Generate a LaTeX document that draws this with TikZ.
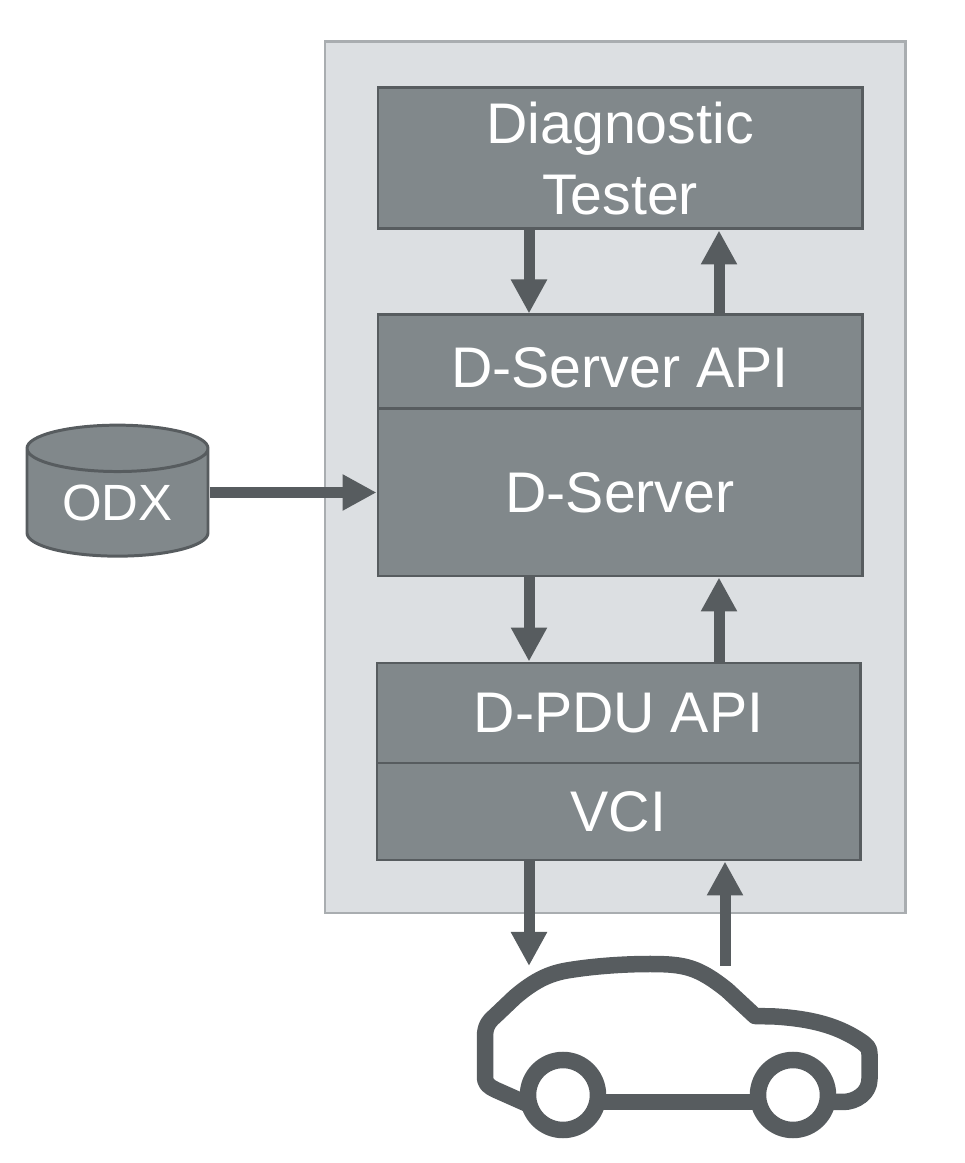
\documentclass[tikz,border=0pt]{standalone}
\usepackage{fontspec}
\setmainfont{Liberation Sans}
\usetikzlibrary{arrows.meta,shapes.geometric}
\definecolor{panelgray}{HTML}{DCDFE2}
\definecolor{panelline}{HTML}{A9ADB0}
\definecolor{boxgray}{HTML}{81888B}
\definecolor{darkgray}{HTML}{575C5F}
\tikzset{
  layerbox/.style={draw=darkgray,fill=boxgray,line width=0.85pt,text=white,align=center,
    inner sep=0pt,font=\fontsize{16.3}{20}\selectfont},
  flow/.style={draw=darkgray,line width=0.11cm,-{Triangle[length=0.34cm,width=0.34cm]}}
}

\begin{document}
\begin{tikzpicture}
  \useasboundingbox (0,0) rectangle (9.65,11.63);
  % panel
  \node[draw=panelline,fill=panelgray,line width=0.85pt,minimum width=5.8cm,minimum height=8.71cm,
    inner sep=0pt] (panel) at (6.15,6.855) {};
  % layers
  \node[layerbox,minimum width=4.84cm,minimum height=1.41cm] (tester) at (6.20,10.045)
    {Diagnostic\\Tester};
  \node[layerbox,minimum width=4.84cm,minimum height=0.94cm,text height=0.51cm] (dapi) at (6.20,8.01)
    {D-Server API};
  \node[layerbox,minimum width=4.84cm,minimum height=1.67cm] (dserver) at (6.20,6.705) {D-Server};
  \node[layerbox,minimum width=4.83cm,minimum height=1.00cm] (pduapi) at (6.185,4.50) {D-PDU API};
  \node[layerbox,minimum width=4.83cm,minimum height=0.97cm] (vci) at (6.185,3.515) {VCI};
  % database
  \node[cylinder,shape border rotate=90,aspect=0.42,draw=darkgray,fill=boxgray,line width=0.85pt,
    cylinder uses custom fill,cylinder body fill=boxgray,cylinder end fill=boxgray,
    text=white,inner sep=0pt,minimum width=1.81cm,minimum height=1.31cm,
    font=\fontsize{14.5}{17}\selectfont] (odx) at (1.175,6.60) {ODX};
  % connectors
  \draw[flow] (odx.east |- dserver.west) -- (dserver.west);
  \draw[flow] ([xshift=-0.91cm]tester.south) -- ([xshift=-0.91cm]dapi.north);
  \draw[flow] ([xshift=0.99cm]dapi.north) -- ([xshift=0.99cm]tester.south);
  \draw[flow] ([xshift=-0.91cm]dserver.south) -- ([xshift=-0.895cm]pduapi.north);
  \draw[flow] ([xshift=1.005cm]pduapi.north) -- ([xshift=0.99cm]dserver.south);
  \coordinate (carin) at (5.29,1.97);
  \coordinate (carout) at (7.25,1.97);
  \draw[flow] (vci.south -| carin) -- (carin);
  \draw[flow] (carout) -- (vci.south -| carout);
  % car
  \draw[darkgray,line width=0.165cm,line join=round]
    (5.32,0.57) -- (4.96,0.73) .. controls (4.88,0.77) and (4.85,0.79) .. (4.85,0.87)
    -- (4.85,1.26) .. controls (4.85,1.36) and (4.88,1.41) .. (4.95,1.47)
    -- (5.15,1.66) .. controls (5.35,1.83) and (5.50,1.90) .. (5.70,1.93)
    .. controls (5.95,1.97) and (6.25,1.99) .. (6.50,1.99)
    .. controls (6.85,1.99) and (6.98,1.96) .. (7.27,1.73)
    -- (7.55,1.47) -- (7.75,1.465) .. controls (8.15,1.44) and (8.40,1.36) .. (8.62,1.21)
    .. controls (8.67,1.17) and (8.695,1.15) .. (8.695,1.09)
    -- (8.695,0.84) .. controls (8.695,0.70) and (8.56,0.61) .. (8.43,0.61) -- (8.33,0.61);
  \draw[darkgray,line width=0.165cm] (6.03,0.61) -- (7.53,0.61);
  \draw[darkgray,line width=0.165cm] (5.63,0.68) circle (0.35);
  \draw[darkgray,line width=0.165cm] (7.93,0.68) circle (0.35);
\end{tikzpicture}
\end{document}
